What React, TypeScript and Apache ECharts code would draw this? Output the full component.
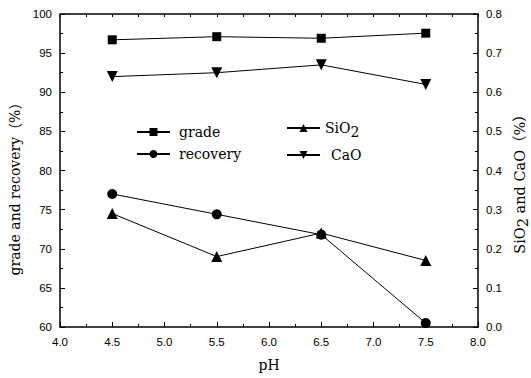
import React, { useEffect, useRef } from "react";
import * as echarts from "echarts";

const phValues = [4.5, 5.5, 6.5, 7.5];
const grade = [96.7, 97.1, 96.9, 97.55];
const recovery = [77.0, 74.4, 71.8, 60.5];
const sio2 = [0.29, 0.18, 0.24, 0.17];
const cao = [0.64, 0.65, 0.67, 0.62];

const serif = "'DejaVu Serif', 'Noto Sans CJK SC', serif";
const sans = "'Liberation Sans', Arial, sans-serif";

export default function App() {
  const ref = useRef<HTMLDivElement>(null);
  useEffect(() => {
    document.body.style.margin = "0";
    if (!ref.current) return;
    const chart = echarts.init(ref.current, null, { renderer: "svg" });
    const pair = (ys: number[]) => phValues.map((x, i) => [x, ys[i]]);
    const axisLine = { show: true, lineStyle: { color: "#000", width: 1.5 } };
    const axisTick = { show: true, inside: true, length: 5, lineStyle: { color: "#000", width: 1 } };
    const minorTick = { show: true, splitNumber: 2, length: 3, lineStyle: { color: "#000", width: 1 } };
    const lbl = { color: "#000", fontFamily: sans, fontSize: 11.5 };
    const subRich = { s: { fontFamily: serif, fontSize: 14, color: "#000", padding: [7, 0, 0, 0] } };
    const lineSeries = (name: string, data: number[], symbol: string, size: number, yIdx: number, rotate = 0) => ({
      name,
      type: "line",
      yAxisIndex: yIdx,
      data: pair(data),
      symbol,
      symbolSize: size,
      symbolRotate: rotate,
      lineStyle: { color: "#000", width: 1 },
      itemStyle: { color: "#000" },
    });
    const leg = (name: string, left: number, top: number, padLeft: number) => ({
      data: [name],
      left,
      top,
      itemWidth: 33,
      itemHeight: 10,
      padding: 0,
      formatter: (n: string) => (n === "SiO2" ? "SiO{s|2}" : n),
      textStyle: {
        fontFamily: serif,
        fontSize: 14,
        color: "#000",
        lineHeight: 16,
        padding: [0, 0, 0, padLeft],
        rich: subRich,
      },
    });
    chart.setOption({
      animation: false,
      backgroundColor: "#fff",
      grid: { left: 60, right: 53, top: 14, bottom: 51, containLabel: false, outerBoundsMode: "none" },
      legend: [
        leg("grade", 136, 124, 4),
        leg("recovery", 136, 146, 4),
        leg("SiO2", 286, 120, 0),
        leg("CaO", 286, 147, 6),
      ],
      xAxis: [
        {
          type: "value",
          min: 4,
          max: 8,
          interval: 0.5,
          name: "pH",
          nameLocation: "middle",
          nameGap: 31,
          nameTextStyle: { fontFamily: serif, fontSize: 14, color: "#000" },
          axisLine,
          axisTick,
          minorTick,
          splitLine: { show: false },
          axisLabel: { ...lbl, margin: 9, formatter: (v: number) => v.toFixed(1) },
        },
        {
          type: "value",
          position: "top",
          min: 4,
          max: 8,
          interval: 0.5,
          axisLine,
          axisTick: { ...axisTick, length: 3 },
          minorTick,
          splitLine: { show: false },
          axisLabel: { show: false },
        },
      ],
      yAxis: [
        {
          type: "value",
          min: 60,
          max: 100,
          interval: 5,
          name: "grade and recovery（%）",
          nameLocation: "middle",
          nameRotate: 90,
          nameGap: 33,
          nameTextStyle: { fontFamily: serif, fontSize: 14, color: "#000", padding: [0, 30, 0, 0] },
          axisLine,
          axisTick,
          minorTick,
          splitLine: { show: false },
          axisLabel: { ...lbl, margin: 8 },
        },
        {
          type: "value",
          position: "right",
          min: 0,
          max: 0.8,
          interval: 0.1,
          name: "SiO{s|2} and CaO（%）",
          nameLocation: "middle",
          nameRotate: 90,
          nameGap: 31,
          nameTextStyle: {
            fontFamily: serif,
            fontSize: 14.5,
            color: "#000",
            padding: [0, 20, 0, 0],
            rich: { s: { ...subRich.s, fontSize: 14.5, padding: [6, 0, 0, 0] } },
          },
          axisLine,
          axisTick,
          minorTick,
          splitLine: { show: false },
          axisLabel: { ...lbl, margin: 8, formatter: (v: number) => v.toFixed(1) },
        },
      ],
      series: [
        lineSeries("grade", grade, "rect", 9, 0),
        lineSeries("recovery", recovery, "circle", 10, 0),
        lineSeries("SiO2", sio2, "triangle", 11, 1),
        lineSeries("CaO", cao, "triangle", 11, 1, 180),
      ],
    });
    return () => chart.dispose();
  }, []);
  return <div ref={ref} style={{ width: 531, height: 378 }} />;
}
